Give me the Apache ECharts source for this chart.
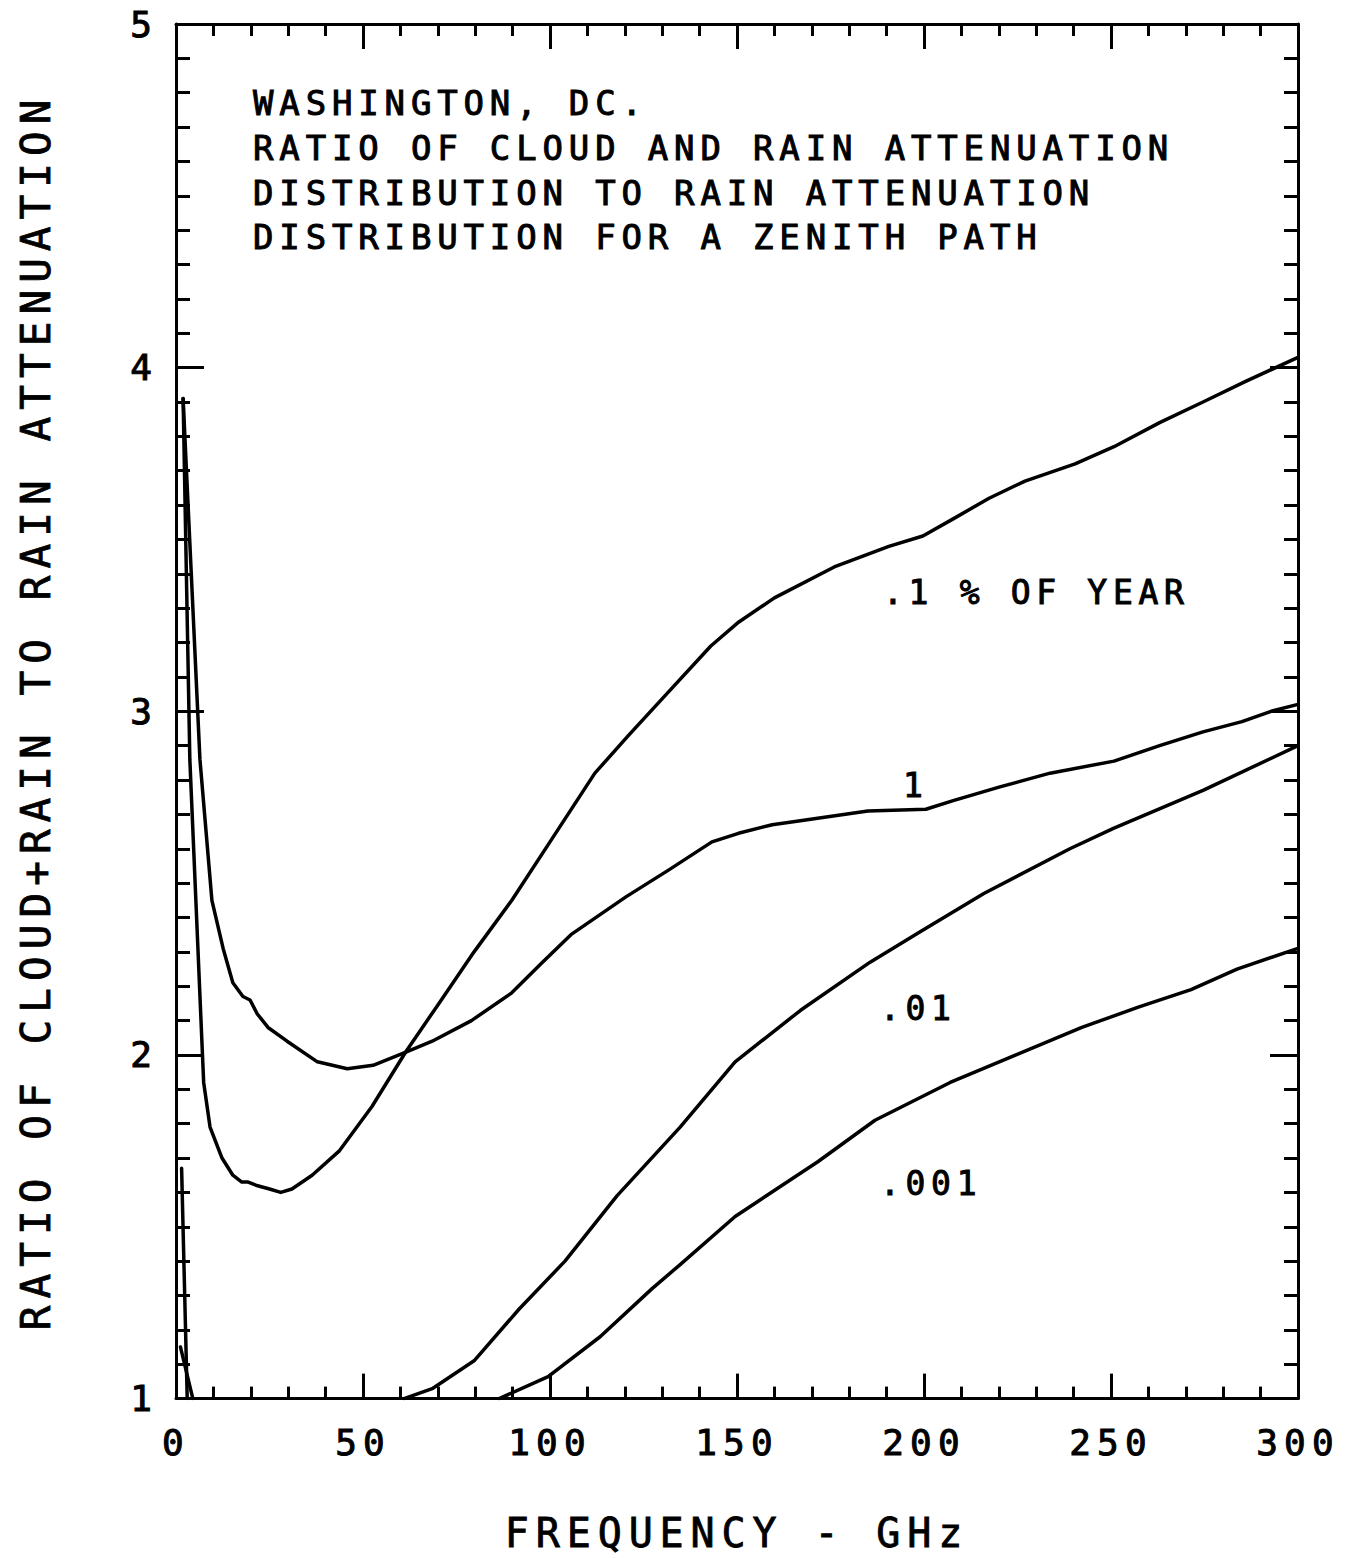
<!DOCTYPE html>
<html><head><meta charset="utf-8">
<script src="https://cdn.jsdelivr.net/npm/echarts@6/dist/echarts.min.js"></script>
<style>
html,body{margin:0;padding:0;background:#fff;}
#chart{width:1362px;height:1558px;}
#chart text{letter-spacing:0.172em;}
</style></head><body><div id="chart"></div>
<script>
// ---- data (frequency GHz, ratio) ----
const titleLines = [
  'WASHINGTON, DC.',
  'RATIO OF CLOUD AND RAIN ATTENUATION',
  'DISTRIBUTION TO RAIN ATTENUATION',
  'DISTRIBUTION FOR A ZENITH PATH'
];
const xAxisTitle = 'FREQUENCY - GHz';
const yAxisTitle = 'RATIO OF CLOUD+RAIN TO RAIN ATTENUATION';
const curveLabels = ['.1 % OF YEAR', '1', '.01', '.001'];

const pct0_1 = [[1.9,3.91],[3.7,2.86],[7.0,2.02],[7.4,1.92],[9.1,1.79],[12.3,1.70],[15.2,1.65],[17.6,1.63],[19.3,1.63],[21.6,1.62],[25,1.61],[28,1.60],[31,1.61],[36.4,1.65],[43.6,1.72],[52.4,1.85],[61.5,2.01],[70.3,2.15],[79.7,2.30],[89.8,2.45],[100,2.62],[112,2.82],[121,2.93],[132,3.06],[143,3.19],[150.5,3.26],[160,3.33],[176,3.42],[190.6,3.48],[199.7,3.51],[207.8,3.56],[217.4,3.62],[227,3.67],[240.4,3.72],[250.8,3.77],[263,3.84],[274.6,3.90],[286,3.96],[300,4.03]];
const pct1 = [[1.9,3.91],[6.4,2.86],[9.6,2.45],[12.6,2.31],[15.2,2.21],[17.9,2.17],[19.8,2.16],[21.7,2.12],[24.6,2.08],[29.7,2.04],[37.8,1.98],[45.8,1.96],[52.7,1.97],[61.8,2.01],[68.5,2.04],[79,2.10],[89.7,2.18],[98,2.27],[105.6,2.35],[120.3,2.46],[132,2.54],[143.3,2.62],[150.4,2.645],[159.4,2.67],[166,2.68],[185,2.71],[200.5,2.715],[207.8,2.74],[220.3,2.78],[233.7,2.82],[250.8,2.855],[263,2.90],[274.6,2.94],[285,2.97],[292.8,3.00],[300,3.02]];
const pct0_01 = [[1.5,1.67],[3,1.0],null,[61,1.0],[68.7,1.03],[79.7,1.11],[91.7,1.26],[104,1.40],[117.9,1.59],[134.8,1.79],[149.5,1.98],[167,2.13],[185.6,2.27],[199.2,2.36],[216,2.47],[239,2.60],[250.8,2.66],[274.6,2.77],[300,2.90]];
const pct0_001 = [[1.2,1.15],[4.5,1.0],null,[86.4,1.0],[99.5,1.064],[113.4,1.18],[127.3,1.32],[134.8,1.39],[149.5,1.53],[171.7,1.69],[186.9,1.81],[207,1.92],[224.6,2.00],[242.2,2.08],[257.5,2.14],[271.4,2.19],[283.7,2.25],[300,2.31]];

// ---- chart ----
const FONT = '"DejaVu Sans Mono", monospace';
const black = '#000';
const chart = echarts.init(document.getElementById('chart'), null, {renderer: 'svg'});

function xAx(pos, show) {
  return {
    type: 'value', position: pos, min: 0, max: 300, interval: 50,
    axisLine: {show: true, onZero: false, lineStyle: {color: black, width: 3}},
    axisTick: {show: true, inside: true, length: 25, lineStyle: {color: black, width: 3}},
    minorTick: {show: true, splitNumber: 5, length: 12, lineStyle: {color: black, width: 3}},
    splitLine: {show: false},
    axisLabel: {show: show, margin: 26, color: black, fontFamily: FONT, fontSize: 36,
      textBorderColor: black, textBorderWidth: 1},
    name: show ? xAxisTitle : '', nameLocation: 'middle', nameGap: 114,
    nameTextStyle: {color: black, fontFamily: FONT, fontSize: 40, textBorderColor: black, textBorderWidth: 0.8}
  };
}
function yAx(pos, show) {
  return {
    type: 'value', position: pos, min: 1, max: 5, interval: 1,
    axisLine: {show: true, onZero: false, lineStyle: {color: black, width: 3}},
    axisTick: {show: true, inside: true, length: 28, lineStyle: {color: black, width: 3}},
    minorTick: {show: true, splitNumber: 10, length: 14, lineStyle: {color: black, width: 3}},
    splitLine: {show: false},
    axisLabel: {show: show, margin: 18, color: black, fontFamily: FONT, fontSize: 36,
      textBorderColor: black, textBorderWidth: 1},
    name: show ? yAxisTitle : '', nameLocation: 'middle', nameGap: 120,
    nameTextStyle: {color: black, fontFamily: FONT, fontSize: 41, textBorderColor: black, textBorderWidth: 0.8}
  };
}
function series(data) {
  return {
    type: 'line', data: data, showSymbol: false, symbol: 'none',
    smooth: false, connectNulls: false, clip: true,
    lineStyle: {color: black, width: 3.5, join: 'round', cap: 'round'}, silent: true, animation: false
  };
}

const textStyle = (size) => ({fill: black, stroke: black, lineWidth: 1, fontFamily: FONT, fontSize: size, textAlign: 'left', textVerticalAlign: 'middle'});
const graphic = [];
const titleY = [103, 148, 193, 237];
titleLines.forEach((t, i) => graphic.push({type: 'text', x: 253, y: titleY[i], style: Object.assign({text: t}, textStyle(34))}));
const labelPos = [[883, 592], [903, 785], [880, 1008], [880, 1183]];
curveLabels.forEach((t, i) => graphic.push({type: 'text', x: labelPos[i][0], y: labelPos[i][1], style: Object.assign({text: t}, textStyle(33))}));

chart.setOption({
  animation: false,
  backgroundColor: '#fff',
  grid: {left: 176, right: 64, top: 24, bottom: 158, containLabel: false},
  xAxis: [xAx('bottom', true), xAx('top', false)],
  yAxis: [yAx('left', true), yAx('right', false)],
  series: [series(pct0_1), series(pct1), series(pct0_01), series(pct0_001)],
  graphic: graphic
});
</script></body></html>
